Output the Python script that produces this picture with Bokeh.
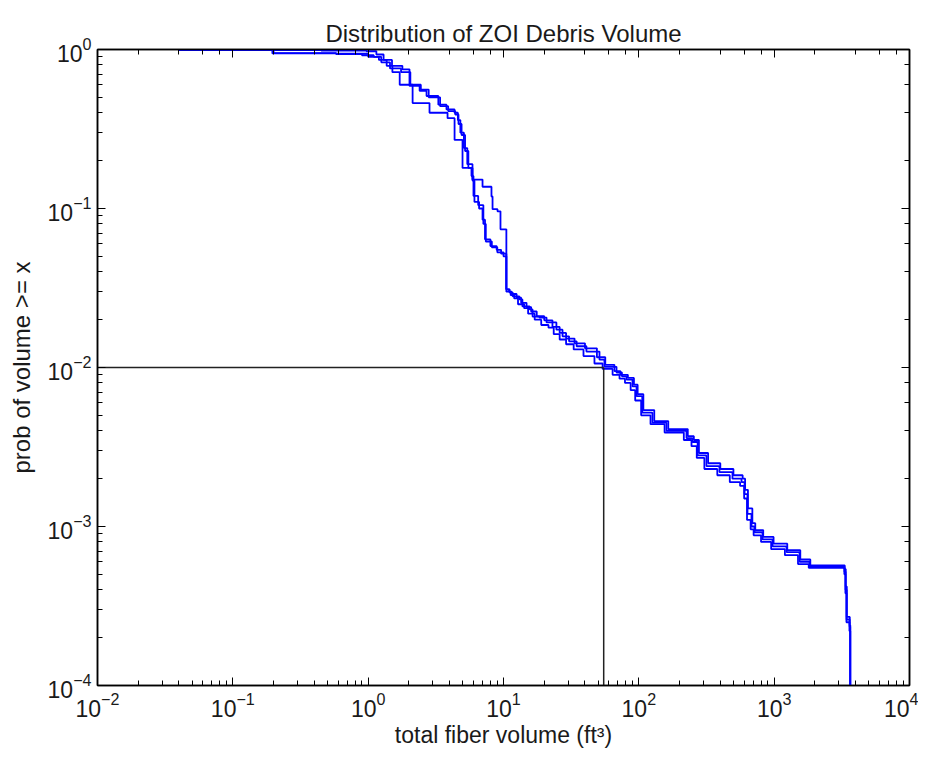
from bokeh.plotting import figure
from bokeh.models import LogAxis, Range1d, LogTicker
from bokeh.embed import file_html
from bokeh.resources import INLINE

# ---- data ----
run1_x = [0.040, 0.45, 0.97, 1.15, 1.30, 1.50, 1.79, 2.02, 2.40, 2.70, 3.30, 3.79, 4.35, 4.60, 4.80,
          5.10, 5.40, 5.90, 6.10, 6.60, 7.00, 7.30, 8.00, 8.90, 9.60, 10.5,
          11.1, 11.7, 13.1, 13.8, 15.6, 16.4, 18.4, 20.8, 24.6, 27.3, 30.5, 34.7, 41.0, 51.2, 55.7,
          68.4, 75.0, 81.1, 89.8, 96.2, 106, 126, 160, 225, 249, 272, 316, 394, 492, 574, 604, 635,
          680, 716, 820, 973, 1234, 1540, 1826, 3310, 3370, 3430, 3610, 3650]
run1_y = [0.99, 0.985, 0.975, 0.93, 0.86, 0.79, 0.75, 0.59, 0.55, 0.51, 0.45, 0.42, 0.40, 0.36, 0.30,
          0.24, 0.19, 0.15, 0.11, 0.10, 0.085, 0.064, 0.058, 0.055, 0.052, 0.031,
          0.0296, 0.028, 0.0268, 0.0242, 0.0232, 0.0209, 0.0206, 0.0192, 0.0173, 0.0157, 0.0146, 0.0136,
          0.0126, 0.0112, 0.0101,
          0.0093, 0.0088, 0.0084, 0.0076, 0.0066, 0.0052, 0.0045, 0.0040, 0.0036, 0.0034, 0.0028, 0.0024,
          0.0022, 0.0020, 0.0019, 0.0016, 0.0012,
          0.00100, 0.00092, 0.00083, 0.00075, 0.00069, 0.00060, 0.00056, 0.00052, 0.00040, 0.00026,
          0.000235, 0.00008]

run2_x = [0.045, 0.196, 0.58, 0.90, 1.10, 1.25, 1.45, 1.75, 2.05, 2.45, 2.80, 3.40, 3.90, 4.40, 4.65,
          4.90, 5.20, 5.50, 5.80, 6.00, 6.50, 7.10, 7.40, 8.20, 9.00, 10.0, 10.5,
          11.3, 12.0, 12.8, 14.2, 15.2, 17.0, 19.0, 21.5, 23.5, 26.0, 29.0, 33.0, 39.0, 47.0, 54.0,
          64.0, 72.0, 79.0, 87.0, 94.0, 104, 122, 155, 215, 245, 268, 305, 380, 470, 560, 600, 630,
          670, 705, 800, 950, 1200, 1500, 1800, 3300, 3360, 3420, 3600, 3650]
run2_y = [0.99, 0.945, 0.935, 0.92, 0.90, 0.83, 0.76, 0.72, 0.60, 0.56, 0.50, 0.44, 0.41, 0.39, 0.34,
          0.29, 0.23, 0.18, 0.16, 0.12, 0.105, 0.080, 0.062, 0.057, 0.053, 0.050, 0.030,
          0.0285, 0.0272, 0.0250, 0.0236, 0.0218, 0.0200, 0.0185, 0.0178, 0.0162, 0.0150, 0.0140, 0.0130,
          0.0118, 0.0106, 0.0098,
          0.0090, 0.0085, 0.0080, 0.0072, 0.0062, 0.0050, 0.0044, 0.0039, 0.0035, 0.0032, 0.0027, 0.0023,
          0.0021, 0.0019, 0.0018, 0.0015, 0.0011,
          0.00096, 0.00088, 0.00080, 0.00072, 0.00066, 0.00058, 0.00055, 0.00050, 0.00038, 0.00025,
          0.00022, 0.00008]

run3_x = [0.040, 0.20, 0.58, 1.00, 1.20, 1.37, 1.51, 1.71, 2.13, 2.84, 3.86, 4.35, 4.98, 5.90,
          7.00, 8.15, 8.30, 9.03, 9.50, 10.5,
          11.0, 11.5, 12.5, 13.5, 14.8, 16.0, 17.6, 20.0, 23.0, 26.0, 29.0, 33.5, 40.0, 49.0, 56.5,
          66.0, 73.0, 83.0, 92.0, 98.0, 108, 130, 165, 230, 255, 278, 325, 400, 500, 585, 610, 640,
          690, 725, 830, 990, 1250, 1560, 1850, 3320, 3380, 3440, 3620, 3650]
run3_y = [0.99, 0.95, 0.94, 0.90, 0.86, 0.79, 0.72, 0.60, 0.46, 0.40, 0.37, 0.27, 0.18, 0.152,
          0.137, 0.119, 0.099, 0.096, 0.074, 0.031,
          0.0300, 0.0290, 0.0275, 0.0255, 0.0240, 0.0225, 0.0210, 0.0198, 0.0180, 0.0165, 0.0152, 0.0142,
          0.0132, 0.0116, 0.0104,
          0.0095, 0.0090, 0.0086, 0.0078, 0.0068, 0.0054, 0.0046, 0.0041, 0.0037, 0.0035, 0.0029, 0.0025,
          0.0023, 0.0021, 0.0020, 0.0017, 0.0013,
          0.00105, 0.00095, 0.00086, 0.00078, 0.00071, 0.00062, 0.00057, 0.00054, 0.00042, 0.00027,
          0.00024, 0.00008]

crit_volume = 55.0
crit_prob = 0.01

x_lo, x_hi = 1e-2, 1e4
y_lo, y_hi = 1e-4, 1.0

title_text = "Distribution of ZOI Debris Volume"
x_label = "total fiber volume (ft\u00b3)"
y_label = "prob of volume >= x"

FONT = "Liberation Sans"
TXT = "#1a1a1a"

p = figure(width=918, height=750, x_axis_type="log", y_axis_type="log",
           x_range=Range1d(x_lo, x_hi), y_range=Range1d(y_lo, y_hi),
           output_backend="svg", toolbar_location=None,
           min_border_left=97, min_border_right=9, min_border_top=49, min_border_bottom=65)

p.title.text = title_text
p.title.align = "center"
p.title.text_font = FONT
p.title.text_font_style = "normal"
p.title.text_font_size = "24px"
p.title.text_color = TXT
p.title.standoff = 6

p.xgrid.visible = False
p.ygrid.visible = False
p.outline_line_color = "black"
p.outline_line_width = 1.5

for ax in (p.xaxis[0], p.yaxis[0]):
    ax.major_tick_in = 8
    ax.major_tick_out = 0
    ax.minor_tick_in = 5
    ax.minor_tick_out = 0
    ax.axis_line_color = "black"
    ax.axis_line_width = 1.5
    ax.major_tick_line_color = "black"
    ax.minor_tick_line_color = "black"
    ax.major_label_text_font = FONT
    ax.major_label_text_font_size = "23px"
    ax.major_label_text_color = TXT
    ax.axis_label_text_font = FONT
    ax.axis_label_text_font_size = "23px"
    ax.axis_label_text_font_style = "normal"
    ax.axis_label_text_color = TXT

p.xaxis[0].axis_label = x_label
p.yaxis[0].axis_label = y_label
p.yaxis[0].axis_label_text_font_size = "24px"
p.xaxis[0].major_label_standoff = 6
p.yaxis[0].major_label_standoff = 6
p.xaxis[0].axis_label_standoff = 2
p.yaxis[0].axis_label_standoff = 10

for loc in ("above", "right"):
    ax = LogAxis(ticker=LogTicker())
    ax.major_tick_in = 8
    ax.major_tick_out = 0
    ax.minor_tick_in = 5
    ax.minor_tick_out = 0
    ax.major_label_text_font_size = "1px"
    ax.major_label_text_alpha = 0
    ax.major_label_standoff = 0
    ax.axis_line_color = "black"
    ax.axis_line_width = 1.5
    p.add_layout(ax, loc)

for xs, ys in ((run1_x, run1_y), (run2_x, run2_y), (run3_x, run3_y)):
    p.step(xs, ys, mode="after", line_color="#0000ff", line_width=1.8)

p.line([x_lo, crit_volume], [crit_prob, crit_prob], line_color="#222222", line_width=1.5)
p.line([crit_volume, crit_volume], [y_lo, crit_prob], line_color="#222222", line_width=1.5)

open("out.html", "w").write(file_html(p, INLINE))
